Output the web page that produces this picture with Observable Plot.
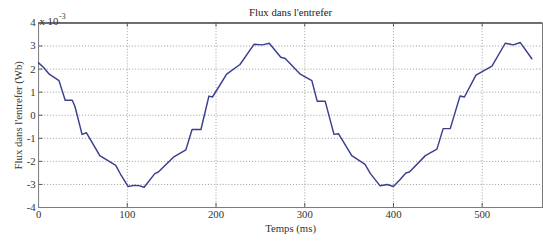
<!DOCTYPE html>
<html>
<head>
<meta charset="utf-8">
<script src="https://cdn.jsdelivr.net/npm/d3@7"></script>
<script src="https://cdn.jsdelivr.net/npm/@observablehq/plot@0.6"></script>
<style>
  html, body { margin: 0; padding: 0; background: #fff; overflow: hidden; }
  #chart { width: 543px; height: 241px; overflow: hidden; }
</style>
</head>
<body>
<div id="chart"></div>
<script>
// Time (ms)
const time = [0, 6, 12, 23, 30, 38, 41, 49, 54, 69, 87, 93, 101, 108, 113, 119, 131, 135, 152, 166, 173, 183, 192, 196, 212, 227, 243, 252, 260, 273, 278, 295, 308, 314, 323, 333, 338, 353, 368, 374, 385, 393, 400, 407, 414, 418, 436, 449, 456, 464, 475, 480, 493, 511, 526, 535, 543, 556];
// Air-gap flux (x 10^-3 Wb)
const flux = [2.27, 2.06, 1.78, 1.5, 0.65, 0.65, 0.38, -0.83, -0.76, -1.75, -2.17, -2.6, -3.09, -3.04, -3.05, -3.12, -2.53, -2.46, -1.82, -1.5, -0.62, -0.62, 0.83, 0.79, 1.78, 2.2, 3.08, 3.05, 3.12, 2.51, 2.46, 1.78, 1.5, 0.61, 0.61, -0.83, -0.8, -1.75, -2.13, -2.53, -3.06, -3.0, -3.09, -2.81, -2.5, -2.46, -1.75, -1.47, -0.58, -0.58, 0.83, 0.79, 1.74, 2.13, 3.12, 3.05, 3.15, 2.45];
const xTicks = [0, 100, 200, 300, 400, 500];
const yTicks = [-4, -3, -2, -1, 0, 1, 2, 3, 4];
const yGrid = [-3, -2, -1, 0, 1, 2, 3];
const xGrid = [100, 200, 300, 400, 500];
const titleText = "Flux dans l'entrefer";
const xLabel = "Temps (ms)";
const yLabel = "Flux dans l'entrefer (Wb)";

const data = time.map((t, i) => ({t, v: flux[i]}));

const chart = Plot.plot({
  width: 556,
  height: 241,
  marginLeft: 39,
  marginRight: 1,
  marginTop: 23,
  marginBottom: 29,
  style: {fontFamily: "'Liberation Serif', 'DejaVu Serif', serif", fontSize: "11px", color: "#333", background: "#fff"},
  x: {domain: [0, 568]},
  y: {domain: [-4, 4]},
  marks: [
    Plot.gridX(xGrid, {stroke: "#9a9a9a", strokeOpacity: 1, strokeDasharray: "1,2"}),
    Plot.gridY(yGrid, {stroke: "#9a9a9a", strokeOpacity: 1, strokeDasharray: "1,2"}),
    Plot.ruleX(xGrid, {y1: 4, y2: 3.82, stroke: "#555"}),
    Plot.ruleX(xGrid, {y1: -4, y2: -3.82, stroke: "#555"}),
    Plot.ruleY(yGrid, {x1: 0, x2: 5, stroke: "#555"}),
    Plot.frame({stroke: "#777"}),
    Plot.ruleY([4], {stroke: "#555", strokeWidth: 1.5}),
    Plot.line(data, {x: "t", y: "v", stroke: "#3c3f8e", strokeWidth: 1.5}),
    Plot.axisX(xTicks, {tickSize: 0, tickPadding: 3, label: xLabel, labelArrow: "none", labelAnchor: "center", labelOffset: 25, fill: "#333"}),
    Plot.axisY(yTicks, {tickSize: 0, tickPadding: 3, label: yLabel, labelArrow: "none", labelAnchor: "center", labelOffset: 25, fill: "#333", tickFormat: d => String(d)}),
    Plot.text([titleText], {frameAnchor: "top", dy: -15, fill: "#222", fontSize: 11}),
    Plot.text(["x 10"], {frameAnchor: "top-left", dx: 1, dy: -6, textAnchor: "start", fill: "#333", fontSize: 11}),
    Plot.text(["-3"], {frameAnchor: "top-left", dx: 21, dy: -10, textAnchor: "start", fill: "#333", fontSize: 8})
  ]
});
document.getElementById("chart").appendChild(chart);
</script>
</body>
</html>
